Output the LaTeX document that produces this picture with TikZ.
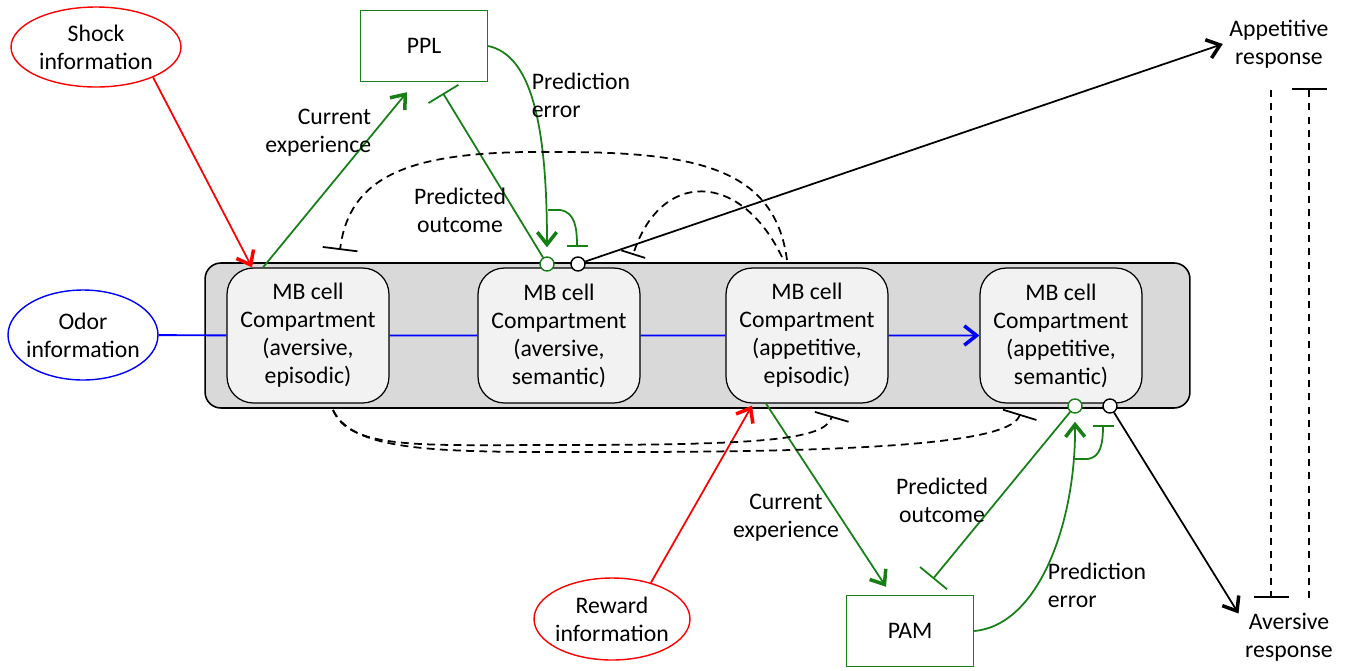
\documentclass[tikz,border=0pt]{standalone}
\usepackage{fontspec}
\setmainfont{Carlito}
\usepackage{xcolor}
\usepackage{tikz}
\usetikzlibrary{calc}
\usetikzlibrary{arrows.meta}
\usetikzlibrary{shapes.geometric}

\definecolor{pgreen}{RGB}{22,128,22}
\definecolor{mbgray}{RGB}{217,217,217}
\definecolor{cellgray}{RGB}{242,242,242}
\definecolor{oblue}{RGB}{0,0,255}

\tikzset{
	cellbox/.style={draw, fill=cellgray, rounded corners=15pt, minimum width=3.24cm, minimum height=2.7cm, align=center, line width=0.7pt},
	infobox/.style={draw=pgreen, minimum width=2.54cm, minimum height=1.42cm, line width=0.8pt},
	stimulus/.style={ellipse, draw, align=center, inner xsep=-6pt, inner ysep=0pt, line width=0.8pt},
	lbl/.style={align=center, inner sep=0pt},
	barb/.style={-{Straight Barb[length=7pt,width=11pt,line width=2pt]}},
	block/.style={-{Bar[width=#1]}},
	block/.default=0.7cm,
	dsh/.style={dash pattern=on 4.5pt off 3pt},
	syn/.style={circle, draw, fill=white, inner sep=0pt, minimum size=0.28cm, line width=0.8pt},
}

\begin{document}
\begin{tikzpicture}[x=0.02cm, y=-0.02cm, line width=1pt, font=\fontsize{13.5}{15.9}\selectfont]
		\useasboundingbox (0,0) rectangle (1349,670);
		% mushroom body and its compartments
		\node[draw, fill=mbgray, rounded corners=9pt, minimum width=19.7cm, minimum height=2.9cm, line width=0.9pt] (mb) at (697.5,335.5) {};
		\node[cellbox] (c1) at (308,335.5) {MB cell\\Compartment\\(aversive,\\episodic)};
		\node[cellbox] (c2) at (559,335.5) {MB cell\\Compartment\\(aversive,\\semantic)};
		\node[cellbox] (c3) at (807,335.5) {MB cell\\Compartment\\(appetitive,\\episodic)};
		\node[cellbox] (c4) at (1061,335.5) {MB cell\\Compartment\\(appetitive,\\semantic)};

		\node[stimulus, draw=red, minimum width=3.4cm, minimum height=1.6cm] (shock) at (96,47) {Shock\\information};
		\node[stimulus, draw=oblue, minimum width=3cm, minimum height=1.8cm] (odor) at (83,335) {Odor\\information};
		\node[stimulus, draw=red, minimum width=3.12cm, minimum height=1.64cm] (reward) at (612,619) {Reward\\information};

		\node[infobox] (ppl) at (424,46) {PPL};
		\node[infobox] (pam) at (910,631) {PAM};

		\node[align=center] (app) at (1279,44) {Appetitive\\response};
		\node[align=center] (av) at (1289,637) {Aversive\\response};

		% odor pathway
		\draw[oblue, line width=1.1pt, barb] (odor) -- (c1) (c1) -- (c2) (c2) -- (c3) (c3) -- (c4);

		% reinforcement
		\draw[red, barb] (shock.-28) -- ($(c1.north)+(-56,0)$);
		\draw[red, barb] (reward.43) -- ($(c3.south)+(-55,2)$);

		% PPL loop
		\draw[pgreen, barb] ($(c1.north)+(-45,0)$) -- ($(ppl.south)+(-17,10)$);
		\node[lbl, anchor=east, align=right] (ce1) at (372,133) {Current\\experience};
		\node[syn, draw=pgreen] (g1) at (547,264) {};
		\node[syn] (b1) at (578,264) {};
		\draw[pgreen, block] (g1) -- ($(ppl.south)+(19,11)$);
		\node[lbl] (po1) at (460,210) {Predicted\\outcome};
		\draw[pgreen, barb] (ppl.east) .. controls (530,55) and (547,120) .. ($(g1.north)+(0,-9)$);
		\node[lbl, anchor=west, align=left] (pe1) at (531,95) {Prediction\\error};
		\coordinate (k1) at (548,210);
		\draw[pgreen, block=0.42cm] (k1) -- (560,210) .. controls (575,212) and (577,228) .. (577,247);

		% PAM loop
		\draw[pgreen, barb] ($(c3.south)+(-41,0)$) -- ($(pam.north)+(-24,-8)$);
		\node[lbl] (ce2) at (786,518) {Current\\experience};
		\node[syn, draw=pgreen] (g2) at (1075,406) {};
		\node[syn] (b2) at (1110,406) {};
		\draw[pgreen, block] (g2) -- ($(pam.north)+(23,-16)$);
		\node[lbl] (po2) at (942,500) {Predicted\\outcome};
		\draw[pgreen, barb] (pam.east) .. controls (1040,625) and (1076,520) .. ($(g2.south)+(0,8)$);
		\node[lbl, anchor=west, align=left] (pe2) at (1047,585) {Prediction\\error};
		\coordinate (k2) at (1075,459);
		\draw[pgreen, block=0.42cm] (k2) -- (1088,459) .. controls (1100,457) and (1103,445) .. (1103,425);

		% outputs
		\draw[barb] (b1) -- (app.west);
		\draw[barb] (b2) -- (av.155);

		% cross-compartment inhibition
		\draw[dsh, block] (787,260) .. controls (775,170) and (700,152) .. (560,152) .. controls (420,150) and (350,170) .. (340,250);
		\draw[dsh, block=0.5cm] (782,257) .. controls (740,170) and (660,170) .. (633,255);
		\draw[dsh, block] (333,410) .. controls (350,450) and (420,445) .. (560,445) .. controls (760,445) and (825,440) .. (832,416);
		\draw[dsh, block] (333,410) .. controls (355,455) and (450,452) .. (620,452) .. controls (900,452) and (1012,440) .. (1020,414);
		\draw[dash pattern=on 4pt off 3.5pt, block] (1271,90) -- (1271,598);
		\draw[dash pattern=on 4pt off 3.5pt, block] (1309,598) -- (1309,88);
	\end{tikzpicture}
\end{document}
